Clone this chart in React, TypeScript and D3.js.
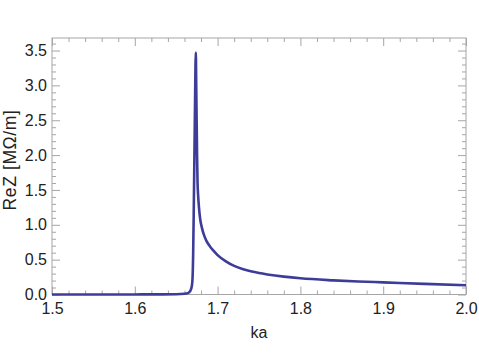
import { useEffect, useRef } from 'react';
import * as d3 from 'd3';

// values (ka, ReZ in MΩ/m)
const ka = [
  1.5, 1.55, 1.6, 1.63, 1.65, 1.66, 1.664, 1.667, 1.669, 1.6698, 1.6705, 1.6712,
  1.672, 1.6728, 1.6733, 1.6737, 1.6742, 1.6747, 1.6752, 1.6758, 1.6765, 1.6775,
  1.679, 1.681, 1.6835, 1.6865, 1.6908, 1.695, 1.7, 1.71, 1.72, 1.73, 1.74, 1.75,
  1.76, 1.78, 1.8, 1.84, 1.87, 1.9, 1.95, 2.0,
];
const reZ = [
  0, 0, 0.001, 0.002, 0.004, 0.01, 0.02, 0.05, 0.13, 0.25, 0.6, 1.2,
  2.0, 2.8, 3.3, 3.47, 3.0, 2.5, 2.0, 1.6, 1.42, 1.25,
  1.08, 0.96, 0.855, 0.77, 0.69, 0.63, 0.565, 0.475, 0.41, 0.365, 0.333, 0.308,
  0.288, 0.256, 0.232, 0.203, 0.187, 0.174, 0.152, 0.132,
];

const xTicks = [1.5, 1.6, 1.7, 1.8, 1.9, 2.0];
const yTicks = [0, 0.5, 1.0, 1.5, 2.0, 2.5, 3.0, 3.5];

const W = 479;
const H = 360;
const left = 52, right = 466, top = 38, bottom = 294.5;
const frameColor = '#a6a6a6';
const textColor = '#222';
const lineColor = '#3d3d99';
const font = '"Liberation Sans", Arial, sans-serif';

const App = () => {
  const ref = useRef<SVGSVGElement>(null);

  useEffect(() => {
    const svg = d3.select(ref.current);
    svg.selectAll('*').remove();

    const x = d3.scaleLinear().domain([1.5, 2.0]).range([left, right]);
    const y = d3.scaleLinear().domain([0, 3.68]).range([bottom, top]);

    const xMinor = d3.range(1.5, 2.0001, 0.02).filter(v => Math.abs(v * 10 - Math.round(v * 10)) > 1e-6);
    const yMinor = d3.range(0, 3.65, 0.1).filter(v => Math.abs(v * 2 - Math.round(v * 2)) > 1e-6);

    const styleAxis = (g: any) => {
      g.select('.domain').remove();
      g.selectAll('line').attr('stroke', frameColor);
      g.selectAll('text').attr('fill', textColor).attr('font-size', 16).attr('font-family', font);
    };

    // minor ticks, all four sides
    svg.append('g').attr('transform', `translate(0,${bottom})`)
      .call(d3.axisBottom(x).tickValues(xMinor).tickSize(-4).tickFormat(() => '')).call(styleAxis);
    svg.append('g').attr('transform', `translate(0,${top})`)
      .call(d3.axisTop(x).tickValues(xMinor).tickSize(-4).tickFormat(() => '')).call(styleAxis);
    svg.append('g').attr('transform', `translate(${left},0)`)
      .call(d3.axisLeft(y).tickValues(yMinor).tickSize(-4).tickFormat(() => '')).call(styleAxis);
    svg.append('g').attr('transform', `translate(${right},0)`)
      .call(d3.axisRight(y).tickValues(yMinor).tickSize(-4).tickFormat(() => '')).call(styleAxis);

    // major ticks
    svg.append('g').attr('transform', `translate(0,${bottom})`)
      .call(d3.axisBottom(x).tickValues(xTicks).tickSizeInner(-8).tickSizeOuter(0).tickPadding(8)
        .tickFormat(d3.format('.1f'))).call(styleAxis);
    svg.append('g').attr('transform', `translate(0,${top})`)
      .call(d3.axisTop(x).tickValues(xTicks).tickSize(-8).tickFormat(() => '')).call(styleAxis);
    svg.append('g').attr('transform', `translate(${left},0)`)
      .call(d3.axisLeft(y).tickValues(yTicks).tickSizeInner(-8).tickSizeOuter(0).tickPadding(5)
        .tickFormat(d3.format('.1f'))).call(styleAxis);
    svg.append('g').attr('transform', `translate(${right},0)`)
      .call(d3.axisRight(y).tickValues(yTicks).tickSize(-8).tickFormat(() => '')).call(styleAxis);

    // frame
    svg.append('rect')
      .attr('x', left).attr('y', top)
      .attr('width', right - left).attr('height', bottom - top)
      .attr('fill', 'none').attr('stroke', frameColor);

    // curve
    const pts = ka.map((k, i) => [k, reZ[i]] as [number, number]);
    const line = d3.line<[number, number]>()
      .x(d => x(d[0]))
      .y(d => y(d[1]))
      .curve(d3.curveMonotoneX);

    svg.append('path')
      .datum(pts)
      .attr('d', line)
      .attr('fill', 'none')
      .attr('stroke', lineColor)
      .attr('stroke-width', 2.6)
      .attr('stroke-linejoin', 'round');

    // axis titles
    svg.append('text')
      .attr('x', (left + right) / 2)
      .attr('y', 338)
      .attr('text-anchor', 'middle')
      .attr('font-size', 16)
      .attr('font-family', font)
      .attr('fill', textColor)
      .text('ka');

    svg.append('text')
      .attr('transform', 'translate(16,160) rotate(-90)')
      .attr('text-anchor', 'middle')
      .attr('font-size', 17.5)
      .attr('font-family', font)
      .attr('fill', textColor)
      .attr('letter-spacing', 0.6)
      .text('ReZ [MΩ/m]');
  }, []);

  return (
    <svg
      ref={ref}
      width={W}
      height={H}
      style={{ position: 'absolute', left: 0, top: 0, background: '#fff' }}
    />
  );
};

export default App;
